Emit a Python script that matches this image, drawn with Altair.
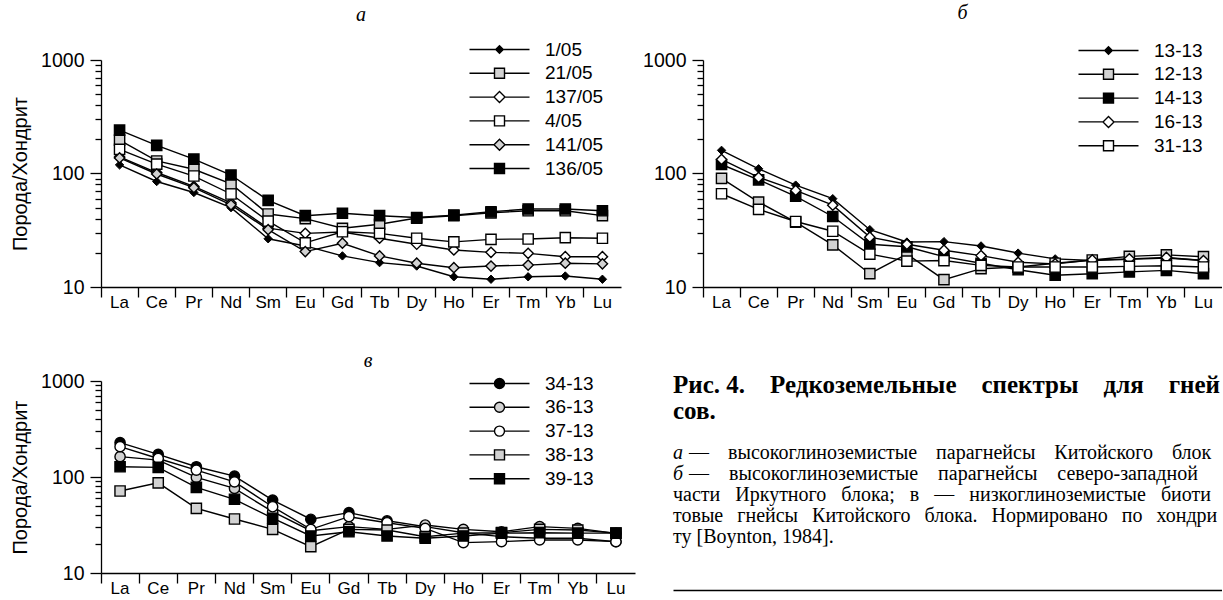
import altair as alt
import pandas as pd

elements = ["La", "Ce", "Pr", "Nd", "Sm", "Eu", "Gd", "Tb", "Dy", "Ho", "Er", "Tm", "Yb", "Lu"]

# ---- panel а ----
a_names = ["1/05", "21/05", "137/05", "4/05", "141/05", "136/05"]
a_kinds = ["sdiamond", "square", "diamond", "square", "diamond", "square"]
a_fills = ["black", "#d2d2d2", "white", "white", "#d2d2d2", "black"]
a_1_05 = [119, 85, 68, 50, 26.6, 23, 18.8, 16.4, 15.3, 12.3, 11.7, 12.3, 12.5, 11.7]
a_21_05 = [197, 129, 109, 81, 44, 40, 32.9, 35.7, 40.5, 42.5, 45, 47, 47, 42.5]
a_137_05 = [140, 102, 77, 55, 33, 29.7, 30.5, 26.9, 23.8, 21.2, 20.2, 19.8, 18.5, 18.5]
a_4_05 = [163, 121, 95, 66, 38, 24.5, 30.7, 29.7, 26.9, 25, 26.3, 26.5, 27.2, 26.9]
a_141_05 = [137, 99, 75, 53, 32, 20.5, 24.3, 18.8, 16.2, 14.8, 15.3, 15.6, 16.2, 16]
a_136_05 = [241, 177, 134, 97, 58, 42.5, 44.6, 42.5, 41, 43, 46, 48.7, 48.7, 47]

# ---- panel б ----
b_names = ["13-13", "12-13", "14-13", "16-13", "31-13"]
b_kinds = ["sdiamond", "square", "square", "diamond", "square"]
b_fills = ["black", "#d2d2d2", "black", "white", "white"]
b_13_13 = [160, 110, 79, 60, 32, 24.9, 25.1, 23, 19.9, 17.7, 17.1, 17.5, 18, 17.1]
b_12_13 = [90.6, 56, 37.3, 23.5, 13.1, 19.5, 11.6, 14.5, 15, 16.2, 17.3, 18.6, 19.2, 18.5]
b_14_13 = [120, 88, 63, 41.8, 23.8, 22.6, 18.5, 16.2, 14.2, 12.7, 13.1, 13.6, 14, 13.1]
b_16_13 = [133, 92.4, 71, 52.6, 27.5, 23.8, 21.1, 18.9, 16.5, 16, 17.3, 17.7, 18.2, 17.1]
b_31_13 = [66.3, 48.3, 37.8, 31, 19.5, 16.9, 17.1, 15.5, 15, 15, 15, 15.2, 15.4, 15]

# ---- panel в ----
c_names = ["34-13", "36-13", "37-13", "38-13", "39-13"]
c_kinds = ["circle", "circle", "circle", "square", "square"]
c_fills = ["black", "#d2d2d2", "white", "#d2d2d2", "black"]
c_34_13 = [228, 172, 128, 102, 57.5, 36.3, 42.5, 35, 30.4, 26.3, 23.9, 23, 23, 21.2]
c_36_13 = [163, 150, 99, 76, 43.5, 27.6, 30.4, 28.5, 31.6, 28.5, 26.9, 30.4, 29.2, 25.9]
c_37_13 = [207, 156, 118, 89, 49, 28.5, 38.6, 33.4, 29.2, 20.7, 21.2, 22.1, 22.1, 21.2]
c_38_13 = [71.5, 87, 47.2, 36.5, 28.5, 18.8, 28.5, 28, 23.9, 26, 26.3, 28.5, 28, 26]
c_39_13 = [128, 126, 78, 58.6, 37.2, 24.3, 26.9, 24.3, 23, 24.3, 26, 26.3, 26, 26]

y_title = "Порода/Хондрит"
cap_head = ["Рис.\u00a04.\u00a0\u00a0\u00a0\u00a0Редкоземельные\u00a0\u00a0\u00a0\u00a0спектры\u00a0\u00a0\u00a0\u00a0для\u00a0\u00a0\u00a0\u00a0гней",
            "сов."]
# italic panel letters that open the first two caption lines
cap_letters = ["а", "б"]
# rest of those two lines (justified in the original)
cap_body_ab = [
    "—\u2002\u2009 высокоглиноземистые\u2002\u2009 парагнейсы\u2002\u2009 Китойского\u2002\u2009 блока;",
    "—\u2003высокоглиноземистые\u2003парагнейсы\u2003северо-западной",
]
cap_body_rest = [
    "части\u2002 Иркутного\u2002 блока;\u2002 в\u2002 —\u2002 низкоглиноземистые\u2002 биоти",
    "товые\u2002\u2009гнейсы\u2002\u2009Китойского\u2002\u2009блока.\u2002\u2009Нормировано\u2002\u2009по\u2002\u2009хондри",
    "ту [Boynton, 1984].",
]

SANS = "Liberation Sans"
SERIF = "Liberation Serif"

plot_shape = {"sdiamond": "diamond", "square": "square", "diamond": "diamond", "circle": "circle"}
legend_shape = {
    "sdiamond": "M-6,0H-0.75M0.75,0H6M0,-0.75L0.75,0L0,0.75L-0.75,0Z",
    "square": "M-6,0H-1M1,0H6M-1,-1H1V1H-1Z",
    "diamond": "M-6,0H-1.1M1.1,0H6M0,-1.1L1.1,0L0,1.1L-1.1,0Z",
    "circle": "M-6,0H-1M1,0H6M-1,0A1,1,0,1,0,1,0A1,1,0,1,0,-1,0Z",
}

major = "datum.value == 10 || datum.value == 100 || datum.value == 1000"
y_ticks = [10, 20, 30, 40, 50, 60, 70, 80, 90, 100, 200, 300, 400, 500, 600, 700, 800, 900, 1000]


def panel(names, series, kinds, fills, title, title_offset, width, height, ytitle, leg_x, leg_y):
    rows = []
    for n, vals in zip(names, series):
        for i, (e, v) in enumerate(zip(elements, vals)):
            rows.append({"series": n, "el": e, "idx": i, "v": v})
    df = pd.DataFrame(rows)
    base = alt.Chart(df)

    x = alt.X(
        "el:N", sort=elements,
        scale=alt.Scale(type="band", paddingInner=0, paddingOuter=0),
        axis=alt.Axis(title=None, labelAngle=0, bandPosition=0, tickSize=10,
                      labelPadding=-3, labelFontSize=17, labelFont=SANS),
    )
    yaxis = dict(values=y_ticks, format="d", labelExpr=f"({major}) ? datum.label : ''",
                 tickSize={"condition": {"test": major, "value": 11}, "value": 6},
                 labelOverlap=False, labelFontSize=19.5, labelPadding=6, labelFont=SANS)
    if ytitle:
        yaxis.update(title=ytitle, titleFontSize=20, titlePadding=10, titleFont=SANS,
                     titleFontWeight="normal")
    else:
        yaxis.update(title=None)
    y = alt.Y("v:Q", scale=alt.Scale(type="log", domain=[10, 1000], nice=False),
              axis=alt.Axis(**yaxis))

    lines = base.mark_line(color="black", strokeWidth=1.4).encode(
        x=x, y=y, detail="series:N", order="idx:Q")

    small = [n for n, k in zip(names, kinds) if k == "sdiamond"]
    big = [n for n, k in zip(names, kinds) if k != "sdiamond"]
    big_kinds = [plot_shape[k] for k, n in zip(kinds, names) if n in big]
    big_fills = [f for f, n in zip(fills, names) if n in big]

    layers = [lines]
    if small:
        layers.append(
            base.transform_filter(alt.FieldOneOfPredicate(field="series", oneOf=small))
            .mark_point(shape="diamond", filled=True, fill="black", stroke="black",
                        strokeWidth=1, size=70, opacity=1)
            .encode(x=x, y=y)
        )
    layers.append(
        base.transform_filter(alt.FieldOneOfPredicate(field="series", oneOf=big))
        .mark_point(filled=True, stroke="black", strokeWidth=1.4, size=105, opacity=1)
        .encode(
            x=x, y=y,
            shape=alt.Shape("series:N", scale=alt.Scale(domain=big, range=big_kinds), legend=None),
            fill=alt.Fill("series:N", scale=alt.Scale(domain=big, range=big_fills), legend=None),
        )
    )
    leg = alt.Legend(title=None, orient="none", legendX=leg_x, legendY=leg_y,
                     labelFont=SANS, labelFontSize=19, labelColor="black",
                     rowPadding=3.8, labelOffset=36, padding=0,
                     symbolStrokeColor="black", symbolStrokeWidth=1.4, symbolSize=100)
    layers.append(
        base.transform_filter("false")
        .mark_point(filled=True, stroke="black", strokeWidth=1.4, size=100, opacity=1)
        .encode(
            shape=alt.Shape("series:N", scale=alt.Scale(domain=names, range=[legend_shape[k] for k in kinds]), legend=leg),
            fill=alt.Fill("series:N", scale=alt.Scale(domain=names, range=fills), legend=leg),
            stroke=alt.Stroke("series:N", scale=alt.Scale(domain=names, range=["black"] * len(names)), legend=leg),
        )
    )
    return alt.layer(*layers).resolve_scale(
        shape="independent", fill="independent", stroke="independent"
    ).properties(
        width=width, height=height,
        title=alt.TitleParams(text=title, font=SERIF, fontStyle="italic", fontSize=20,
                              fontWeight="normal", color="black", offset=title_offset,
                              anchor="middle"),
    )


pa = panel(a_names, [a_1_05, a_21_05, a_137_05, a_4_05, a_141_05, a_136_05], a_kinds, a_fills,
           "а", 15, 520, 227, y_title, 389, -20)
pb = panel(b_names, [b_13_13, b_12_13, b_14_13, b_16_13, b_31_13], b_kinds, b_fills,
           "б", 18, 519, 227, None, 396, -19)
pc = panel(c_names, [c_34_13, c_36_13, c_37_13, c_38_13, c_39_13], c_kinds, c_fills,
           "в", 0, 534, 192, y_title, 389, -7)

# ---- caption ----
cap_w, cap_h = 549, 209
head_df = pd.DataFrame({"t": cap_head, "row": list(range(len(cap_head))), "c": [0] * len(cap_head)})
lett_df = pd.DataFrame({"t": cap_letters, "row": [0, 1], "c": [0, 0]})
ab_df = pd.DataFrame({"t": cap_body_ab, "row": [0, 1], "c": [0, 0]})
rest_df = pd.DataFrame({"t": cap_body_rest, "row": [2, 3, 4], "c": [0, 0, 0]})

cx = alt.X("c:Q", scale=alt.Scale(domain=[0, 1]),
           axis=alt.Axis(title=None, labels=False, ticks=False, grid=False,
                         domainColor="black", domainWidth=1.5))
body_y = alt.Y("row:Q", scale=alt.Scale(domain=[-3.373, 6.486], reverse=True), axis=None)
head = alt.Chart(head_df).mark_text(
    font=SERIF, fontWeight="bold", fontSize=25, align="left", baseline="middle",
    color="black", limit=cap_w, ellipsis=" ").encode(
    x=cx, y=alt.Y("row:Q", scale=alt.Scale(domain=[-0.154, 7.885], reverse=True), axis=None),
    text="t:N")
letters = alt.Chart(lett_df).mark_text(
    font=SERIF, fontStyle="italic", fontSize=20, align="left", baseline="middle",
    color="black").encode(x=cx, y=body_y, text="t:N")
body_ab = alt.Chart(ab_df).mark_text(
    font=SERIF, fontSize=20, align="left", baseline="middle", dx=16,
    color="black", limit=cap_w - 16, ellipsis=" ").encode(x=cx, y=body_y, text="t:N")
body_rest = alt.Chart(rest_df).mark_text(
    font=SERIF, fontSize=20, align="left", baseline="middle",
    color="black", limit=cap_w, ellipsis=" ").encode(x=cx, y=body_y, text="t:N")
caption = alt.layer(head, letters, body_ab, body_rest).resolve_scale(y="independent").properties(
    width=cap_w, height=cap_h)

row1 = alt.hconcat(pa, pb, spacing=21)
row2 = alt.hconcat(pc, caption, spacing=38)
chart = alt.vconcat(row1, row2, spacing=41).properties(
    padding={"left": 10, "top": 3, "right": 0, "bottom": 0}
).configure_view(stroke=None).configure_axis(
    domainColor="black", tickColor="black", labelColor="black", titleColor="black",
    grid=False, domainWidth=1.3, tickWidth=1.3,
)

chart.save("out.html", embed_options={"renderer": "svg", "actions": False})
